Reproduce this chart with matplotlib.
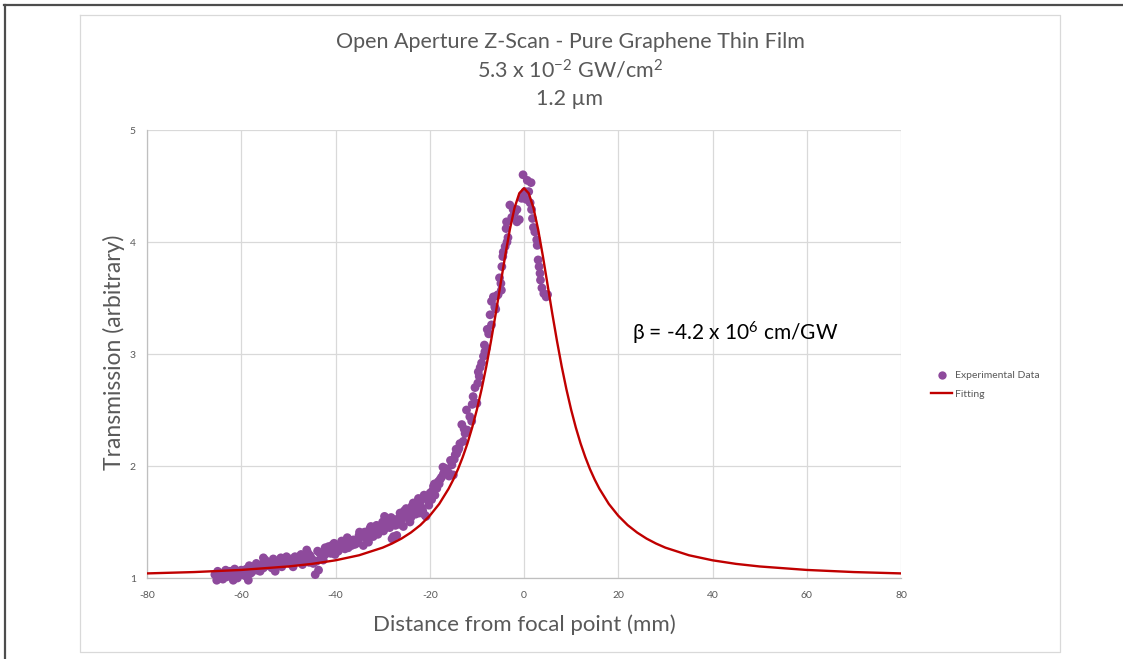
import matplotlib
matplotlib.use("Agg")
import matplotlib.pyplot as plt
from matplotlib.lines import Line2D

plt.rcParams["font.family"] = ["Lato", "DejaVu Sans"]
plt.rcParams["mathtext.fontset"] = "custom"
plt.rcParams["mathtext.rm"] = "Lato"
plt.rcParams["mathtext.it"] = "Lato:italic"
plt.rcParams["mathtext.bf"] = "Lato:bold"

# ---- measured transmission vs. sample position (mm, arbitrary units) ----
exp_z = [
    -65.6, -65.2, -64.5, -64.1, -63.6, -63.1, -62.4, -62.0, -61.7, -61.7,
    -61.0, -60.3, -60.0, -59.6, -58.9, -58.5, -58.1, -57.4, -57.0, -56.4,
    -55.7, -55.3, -55.3, -54.6, -53.9, -53.5, -52.8, -52.8, -52.5, -51.8,
    -51.4, -50.7, -50.4, -49.7, -49.0, -48.6, -48.2, -47.5, -47.0, -46.1,
    -46.1, -45.8, -45.0, -44.3, -44.0, -43.6, -42.9, -42.2, -42.2, -41.9,
    -41.0, -40.5, -40.1, -39.7, -39.0, -38.3, -37.7, -37.3, -36.6, -36.2,
    -35.5, -35.2, -34.6, -34.1, -34.1, -33.4, -32.7, -32.3, -31.6, -31.0,
    -30.2, -29.8, -29.1, -28.5, -28.0, -27.7, -27.7, -27.0, -26.7, -26.3,
    -25.6, -25.2, -24.5, -24.0, -23.5, -23.5, -22.8, -22.0, -21.5, -21.0,
    -20.8, -20.5, -19.9, -19.6, -19.2, -18.9, -18.5, -18.2, -17.8, -17.5,
    -17.1, -16.8, -16.8, -16.0, -15.3, -15.0, -14.6, -14.3, -14.0, -13.6,
    -13.2, -12.9, -12.5, -12.2, -12.0, -11.5, -11.1, -11.0, -10.4, -10.0,
    -9.8, -9.7, -9.3, -9.0, -8.6, -8.3, -8.0, -7.5, -7.2, -6.9,
    -6.9, -6.5, -6.2, -6.0, -5.5, -4.9, -4.8, -4.7, -4.5, -4.4,
    -4.0, -3.8, -3.7, -3.6, -3.4, -3.0, -2.6, -2.3, -2.0, -1.5,
    -1.5, -1.0, -0.5, -0.3, -0.2, 0.2, 0.5, 0.7, 1.0, 1.3,
    1.5, 1.6, 1.8, 2.0, 2.3, 2.7, 2.8, 3.0, 3.2, 3.4,
    3.5, 3.8, 4.2, 4.7, 5.0,
    -65.0, -63.9, -62.7, -60.8, -59.2, -57.8, -56.8, -56.0, -54.2, -53.2,
    -51.1, -50.0, -48.9, -47.8, -46.6, -45.4, -44.7, -43.3, -41.5, -40.8,
    -39.4, -38.7, -38.0, -37.0, -35.9, -35.0, -33.8, -33.0, -32.0, -31.3,
    -30.6, -30.0, -29.4, -28.8, -28.2, -27.3, -26.0, -25.0, -24.2, -23.0,
    -22.4, -21.8, -21.2, -20.2, -19.4, -18.0, -16.4, -15.6, -14.8, -13.8,
    -64.8, -63.3, -61.4, -59.9, -58.3, -56.6, -54.9, -53.0, -51.6, -49.4,
    -47.3, -45.6, -43.8, -42.6, -40.3, -38.9, -37.5, -36.4, -34.9, -33.6,
    -32.5, -31.2, -29.6, -28.4, -26.5, -25.4, -23.8, -22.2, -20.9, -19.0,
    -17.2, -15.9, -14.4, -12.7, -10.8, -9.5, -8.4, -7.8, -5.8, -5.2,
]
exp_t = [
    1.03, 0.98, 1.00, 1.03, 1.05, 1.01, 1.06, 1.02, 0.98, 1.04,
    1.03, 1.03, 1.07, 1.05, 1.08, 0.98, 1.04, 1.07, 1.10, 1.09,
    1.12, 1.09, 1.18, 1.11, 1.13, 1.09, 1.06, 1.15, 1.12, 1.15,
    1.10, 1.15, 1.19, 1.13, 1.10, 1.19, 1.15, 1.16, 1.12, 1.18,
    1.25, 1.22, 1.17, 1.03, 1.15, 1.07, 1.19, 1.27, 1.21, 1.25,
    1.22, 1.25, 1.21, 1.27, 1.30, 1.28, 1.31, 1.27, 1.29, 1.34,
    1.31, 1.34, 1.38, 1.37, 1.29, 1.35, 1.44, 1.40, 1.44, 1.39,
    1.47, 1.42, 1.52, 1.45, 1.35, 1.52, 1.37, 1.38, 1.53, 1.58,
    1.46, 1.55, 1.59, 1.54, 1.61, 1.67, 1.64, 1.68, 1.60, 1.56,
    1.55, 1.70, 1.76, 1.70, 1.82, 1.74, 1.80, 1.86, 1.88, 1.90,
    1.93, 1.98, 1.96, 1.94, 2.01, 1.92, 2.10, 2.11, 2.14, 2.20,
    2.37, 2.22, 2.29, 2.50, 2.32, 2.44, 2.40, 2.55, 2.70, 2.56,
    2.74, 2.84, 2.88, 2.92, 2.98, 3.02, 3.05, 3.18, 3.35, 3.26,
    3.47, 3.51, 3.42, 3.40, 3.53, 3.63, 3.57, 3.78, 3.87, 3.91,
    3.96, 4.12, 4.18, 4.00, 4.04, 4.33, 4.22, 4.29, 4.26, 4.29,
    4.18, 4.20, 4.39, 4.42, 4.60, 4.45, 4.38, 4.55, 4.45, 4.35,
    4.53, 4.29, 4.21, 4.13, 4.09, 4.02, 3.97, 3.84, 3.78, 3.72,
    3.66, 3.59, 3.54, 3.51, 3.53,
    1.06, 0.99, 1.03, 1.00, 1.02, 1.05, 1.13, 1.06, 1.14, 1.17,
    1.13, 1.16, 1.13, 1.19, 1.15, 1.20, 1.13, 1.22, 1.28, 1.29,
    1.24, 1.33, 1.26, 1.34, 1.30, 1.38, 1.41, 1.32, 1.37, 1.47,
    1.42, 1.50, 1.45, 1.49, 1.54, 1.47, 1.51, 1.62, 1.50, 1.57,
    1.71, 1.63, 1.74, 1.65, 1.78, 1.84, 1.97, 2.05, 2.06, 2.16,
    1.01, 1.07, 1.08, 1.05, 1.11, 1.07, 1.16, 1.10, 1.18, 1.17,
    1.21, 1.14, 1.24, 1.16, 1.31, 1.27, 1.36, 1.32, 1.41, 1.38,
    1.46, 1.41, 1.55, 1.50, 1.48, 1.60, 1.64, 1.58, 1.72, 1.84,
    1.99, 1.91, 2.15, 2.33, 2.62, 2.80, 3.08, 3.22, 3.52, 3.68,
]

# ---- fitted open-aperture curve ----
fit_z = [
    -80, -70, -60, -50, -45, -40, -35, -30, -28, -26, -24, -22, -20, -18,
    -16, -15, -14, -13, -12, -11, -10, -9, -8, -7, -6, -5, -4, -3, -2, -1,
    0, 1, 2, 3, 4, 5, 6, 7, 8, 9, 10, 11, 12, 13, 14, 15, 16,
    18, 20, 22, 24, 26, 28, 30, 35, 40, 45, 50, 60, 70, 80,
]
fit_t = [
    1.041, 1.053, 1.072, 1.103, 1.126, 1.158, 1.203, 1.271, 1.308, 1.352,
    1.406, 1.472, 1.556, 1.661, 1.797, 1.879, 1.972, 2.080, 2.202, 2.343,
    2.503, 2.685, 2.889, 3.116, 3.361, 3.619, 3.875, 4.112, 4.306, 4.435,
    4.480, 4.435, 4.306, 4.112, 3.875, 3.619, 3.361, 3.116, 2.889, 2.685,
    2.503, 2.343, 2.202, 2.080, 1.972, 1.879, 1.797, 1.661, 1.556, 1.472,
    1.406, 1.352, 1.308, 1.271, 1.203, 1.158, 1.126, 1.103, 1.072, 1.053,
    1.041,
]

x_ticks = [-80, -60, -40, -20, 0, 20, 40, 60, 80]
y_ticks = [1, 2, 3, 4, 5]

W, H = 1123, 659
fig = plt.figure(figsize=(W / 100, H / 100), dpi=100)
fig.patch.set_facecolor("white")


def fx(px):
    return px / W


def fy(py):
    return 1 - py / H


# outer frame (top and left edges) and chart area border
fig.add_artist(Line2D([fx(4), fx(W)], [fy(5), fy(5)], color="#4d4d4d", lw=1.6))
fig.add_artist(Line2D([fx(5), fx(5)], [fy(5), fy(H)], color="#4d4d4d", lw=1.6))
border_x = [fx(80), fx(1060), fx(1060), fx(80), fx(80)]
border_y = [fy(15), fy(15), fy(652), fy(652), fy(15)]
fig.add_artist(Line2D(border_x, border_y, color="#d9d9d9", lw=0.9))

ax = fig.add_axes([fx(147), fy(578), fx(901) - fx(147), fy(130) - fy(578)])
ax.set_facecolor("none")

purple = "#8E4A9C"
red = "#C00000"
grey_text = "#595959"

ax.scatter(exp_z, exp_t, s=40, color=purple, edgecolors="none", zorder=3,
           clip_on=False)
ax.plot(fit_z, fit_t, color=red, lw=1.7, zorder=4)

ax.set_xlim(-80, 80)
ax.set_ylim(1, 5)
ax.set_xticks(x_ticks)
ax.set_yticks(y_ticks)
ax.set_xticklabels([str(v) for v in x_ticks])
ax.set_yticklabels([str(v) for v in y_ticks])
ax.tick_params(length=0, labelsize=7.5, colors=grey_text, pad=9)
ax.tick_params(axis="y", pad=8)
ax.grid(True, color="#d9d9d9", lw=0.9, zorder=0)
ax.set_axisbelow(True)
for side in ["top", "right"]:
    ax.spines[side].set_visible(False)
for side in ["left", "bottom"]:
    ax.spines[side].set_color("#bfbfbf")
    ax.spines[side].set_linewidth(0.9)

# titles and axis labels
fig.text(fx(570), fy(42), "Open Aperture Z-Scan - Pure Graphene Thin Film",
         ha="center", va="center", fontsize=15.5, color=grey_text)
fig.text(fx(570), fy(70), r"5.3 x 10$^{\mathregular{-2}}$ GW/cm$^{\mathregular{2}}$",
         ha="center", va="center", fontsize=15.5, color=grey_text)
fig.text(fx(570), fy(99), "1.2 µm",
         ha="center", va="center", fontsize=15.5, color=grey_text)
fig.text(fx(524), fy(625), "Distance from focal point (mm)",
         ha="center", va="center", fontsize=16, color=grey_text)
fig.text(fx(114), fy(352), "Transmission (arbitrary)", rotation=90,
         ha="center", va="center", fontsize=16.5, color=grey_text)

fig.text(fx(632), fy(333), r"β = -4.2 x 10$^{\mathregular{6}}$ cm/GW",
         ha="left", va="center", fontsize=15, color="black")

# legend
handles = [
    Line2D([], [], marker="o", ls="none", color=purple, markersize=6,
           markeredgewidth=0),
    Line2D([], [], color=red, lw=1.7),
]
leg = fig.legend(handles, ["Experimental Data", "Fitting"],
                 loc="center left", bbox_to_anchor=(fx(922), fy(385)),
                 frameon=False, fontsize=7.5, handlelength=2.0,
                 handletextpad=0.3, labelspacing=0.9,
                 labelcolor=grey_text)

fig.savefig("out.png", dpi=100, facecolor="white")
